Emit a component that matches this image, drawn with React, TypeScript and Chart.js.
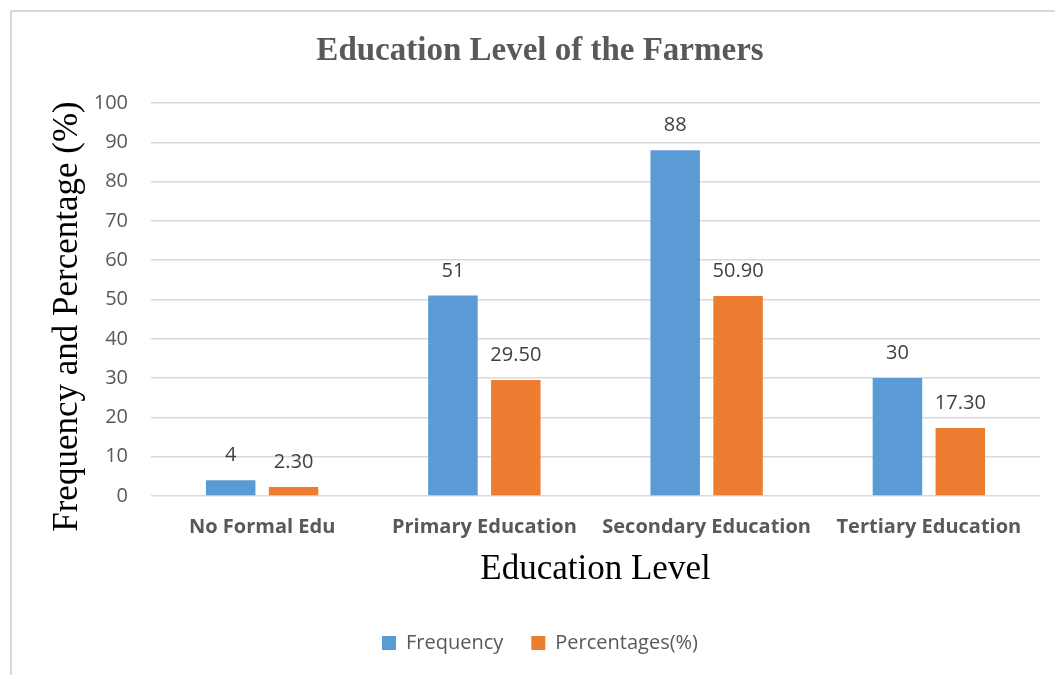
import { useEffect, useRef } from "react";
import { Chart, registerables } from "chart.js";

Chart.register(...registerables);

// Chart data
const categories = ["No Formal Edu", "Primary Education", "Secondary Education", "Tertiary Education"];
const frequency = [4, 51, 88, 30];
const percentages = [2.3, 29.5, 50.9, 17.3];
const seriesNames = ["Frequency", "Percentages(%)"];
const yTickValues = [0, 10, 20, 30, 40, 50, 60, 70, 80, 90, 100];

const chartTitle = "Education Level of the Farmers";
const xAxisTitle = "Education Level";
const yAxisTitle = "Frequency and Percentage (%)";

const SANS = '"Open Sans", "Liberation Sans", sans-serif';
const SERIF = '"Liberation Serif", "DejaVu Serif", serif';
const BLUE = "#5B9BD5";
const ORANGE = "#ED7D31";
const GRAY = "#595959";

// Light frame around the whole chart
const framePlugin = {
  id: "frame",
  beforeDraw(chart: any) {
    const { ctx, width, height } = chart;
    ctx.save();
    ctx.strokeStyle = "#d9d9d9";
    ctx.lineWidth = 2;
    ctx.beginPath();
    ctx.moveTo(11, height + 2);
    ctx.lineTo(11, 11);
    ctx.lineTo(width + 2, 11);
    ctx.stroke();
    ctx.restore();
  },
};

// Rotated y-axis title
const yTitlePlugin = {
  id: "yTitle",
  afterDraw(chart: any) {
    const { ctx, chartArea } = chart;
    const cy = (chartArea.top + chartArea.bottom) / 2 + 17;
    ctx.save();
    ctx.translate(68, cy);
    ctx.rotate(-Math.PI / 2);
    ctx.font = `35px ${SERIF}`;
    ctx.fillStyle = "#000000";
    ctx.textAlign = "center";
    ctx.textBaseline = "middle";
    ctx.fillText(yAxisTitle, 0, 0);
    ctx.restore();
  },
};

// Value labels above each bar
const valueLabelPlugin = {
  id: "valueLabels",
  afterDatasetsDraw(chart: any) {
    const { ctx } = chart;
    ctx.save();
    ctx.font = `20px ${SANS}`;
    ctx.fillStyle = "#404040";
    ctx.textAlign = "center";
    ctx.textBaseline = "middle";
    chart.data.datasets.forEach((ds: any, di: number) => {
      const meta = chart.getDatasetMeta(di);
      meta.data.forEach((bar: any, i: number) => {
        const v = ds.data[i];
        const text = di === 0 ? String(v) : v.toFixed(2);
        ctx.fillText(text, bar.x, bar.y - 24.5);
      });
    });
    ctx.restore();
  },
};

export default function App() {
  const canvasRef = useRef<HTMLCanvasElement | null>(null);

  useEffect(() => {
    if (!canvasRef.current) return;
    const chart = new Chart(canvasRef.current, {
      type: "bar",
      data: {
        labels: categories,
        datasets: [
          {
            label: seriesNames[0],
            data: frequency,
            backgroundColor: BLUE,
            categoryPercentage: 0.566,
            barPercentage: 0.787,
          },
          {
            label: seriesNames[1],
            data: percentages,
            backgroundColor: ORANGE,
            categoryPercentage: 0.566,
            barPercentage: 0.787,
          },
        ],
      },
      options: {
        responsive: false,
        animation: false,
        layout: { padding: { left: 40, right: 15, top: 0, bottom: 12 } },
        plugins: {
          title: {
            display: true,
            text: chartTitle,
            color: GRAY,
            font: { family: SERIF, size: 33, weight: "bold" },
            padding: { top: 32, bottom: 31.4 },
          },
          legend: {
            position: "bottom",
            labels: {
              boxWidth: 14,
              boxHeight: 14,
              padding: 28,
              color: GRAY,
              font: { family: SANS, size: 20 },
            },
          },
          tooltip: { enabled: false },
        },
        scales: {
          x: {
            grid: { display: false, drawTicks: false },
            border: { display: false },
            ticks: {
              color: GRAY,
              padding: 19,
              font: { family: SANS, size: 20, weight: "bold" },
            },
            title: {
              display: true,
              text: xAxisTitle,
              color: "#000000",
              font: { family: SERIF, size: 35 },
              padding: { top: 0, bottom: 14 },
            },
            afterFit(scale: any) {
              scale.height = 109;
            },
          },
          y: {
            min: yTickValues[0],
            max: yTickValues[yTickValues.length - 1],
            afterBuildTicks(scale: any) {
              scale.ticks = yTickValues.map((v) => ({ value: v }));
            },
            grid: { color: "#d9d9d9", lineWidth: 1.5, drawTicks: false },
            border: { display: false },
            ticks: {
              color: GRAY,
              padding: 23,
              font: { family: SANS, size: 20 },
            },
            afterFit(scale: any) {
              scale.width = 111;
            },
          },
        },
      },
      plugins: [framePlugin, yTitlePlugin, valueLabelPlugin],
    });
    return () => chart.destroy();
  }, []);

  return (
    <div style={{ position: "fixed", left: 0, top: 0, width: 1055, height: 675, background: "#ffffff" }}>
      <canvas ref={canvasRef} width={1055} height={675} style={{ display: "block" }} />
    </div>
  );
}
